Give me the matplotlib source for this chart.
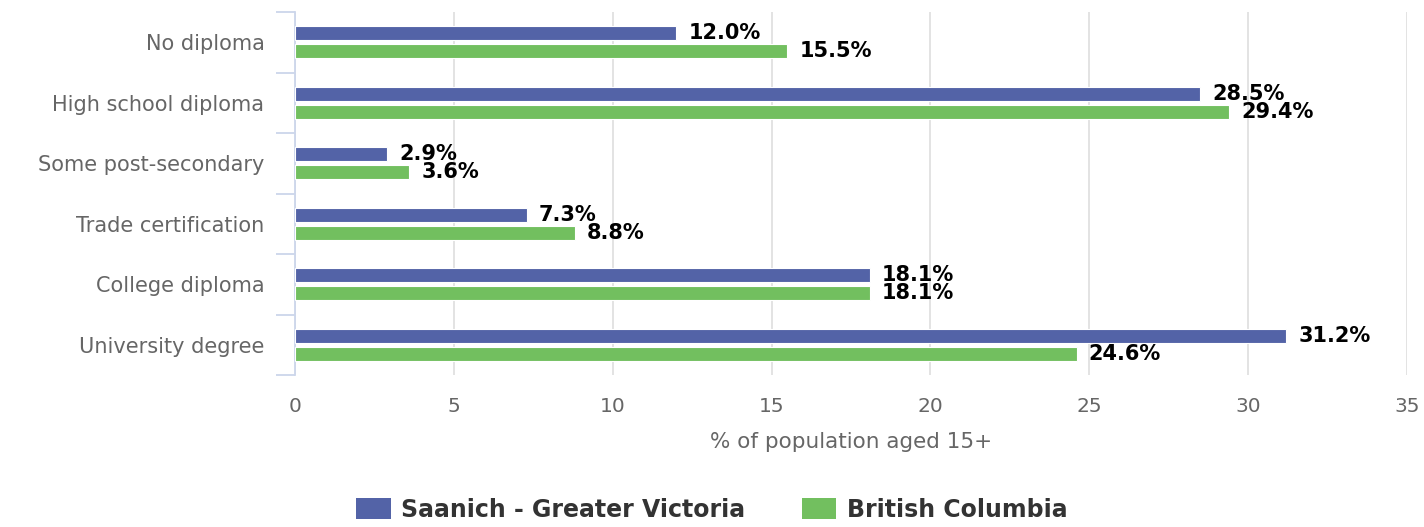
import matplotlib
matplotlib.use("Agg")
import matplotlib.pyplot as plt
import numpy as np
from matplotlib.patches import Patch

categories = ["No diploma", "High school diploma", "Some post-secondary",
              "Trade certification", "College diploma", "University degree"]
saanich = [12.0, 28.5, 2.9, 7.3, 18.1, 31.2]
bc = [15.5, 29.4, 3.6, 8.8, 18.1, 24.6]
series_names = ["Saanich - Greater Victoria", "British Columbia"]
xticks = [0, 5, 10, 15, 20, 25, 30, 35]

blue = "#5363a7"
green = "#72bf5f"

plt.rcParams['font.family'] = ['DejaVu Sans']

fig = plt.figure(figsize=(14.24, 5.27), dpi=100)
ax = fig.add_axes([295/1424, 1 - 375/527, (1407 - 295)/1424, (375 - 12)/527])

y = np.arange(len(categories))
h = 0.235
off = 0.148
ax.barh(y - off, saanich, height=h, color=blue, edgecolor="white", linewidth=0.8, zorder=3)
ax.barh(y + off, bc, height=h, color=green, edgecolor="white", linewidth=0.8, zorder=3)

for yi, v in zip(y, saanich):
    ax.text(v + 0.38, yi - off, f"{v:.1f}%", va="center", ha="left",
            fontsize=15, fontweight="bold", color="black", zorder=4)
for yi, v in zip(y, bc):
    ax.text(v + 0.38, yi + off, f"{v:.1f}%", va="center", ha="left",
            fontsize=15, fontweight="bold", color="black", zorder=4)

ax.set_xlim(0, 35)
ax.set_ylim(len(categories) - 0.5, -0.5)
ax.set_xticks(xticks)
ax.set_xticklabels([str(t) for t in xticks])
ax.tick_params(axis="x", length=0, pad=16, labelsize=14.5, labelcolor="#666666")
ax.grid(axis="x", color="#e0e0e0", linewidth=1.3, zorder=0)

ax.set_yticks(y)
ax.set_yticklabels(categories)
ax.tick_params(axis="y", length=0, pad=22, labelsize=15, labelcolor="#666666")
ax.set_yticks(np.arange(-0.5, len(categories), 1.0), minor=True)
ax.tick_params(axis="y", which="minor", length=14, width=1.3, color="#ccd6eb", direction="out")

for s in ["top", "right", "bottom"]:
    ax.spines[s].set_visible(False)
ax.spines["left"].set_color("#ccd6eb")
ax.spines["left"].set_linewidth(1.3)

ax.set_xlabel("% of population aged 15+", fontsize=15.5, color="#666666", labelpad=11)

handles = [Patch(facecolor=blue, edgecolor="none"), Patch(facecolor=green, edgecolor="none")]
fig.legend(handles, series_names, loc="lower center", bbox_to_anchor=(0.5, -0.03),
           ncol=2, frameon=False, handlelength=1.45, handleheight=1.05, handletextpad=0.45,
           columnspacing=2.4, prop={"size": 17, "weight": "bold"}, labelcolor="#333333")

fig.savefig("out.png", dpi=100)
